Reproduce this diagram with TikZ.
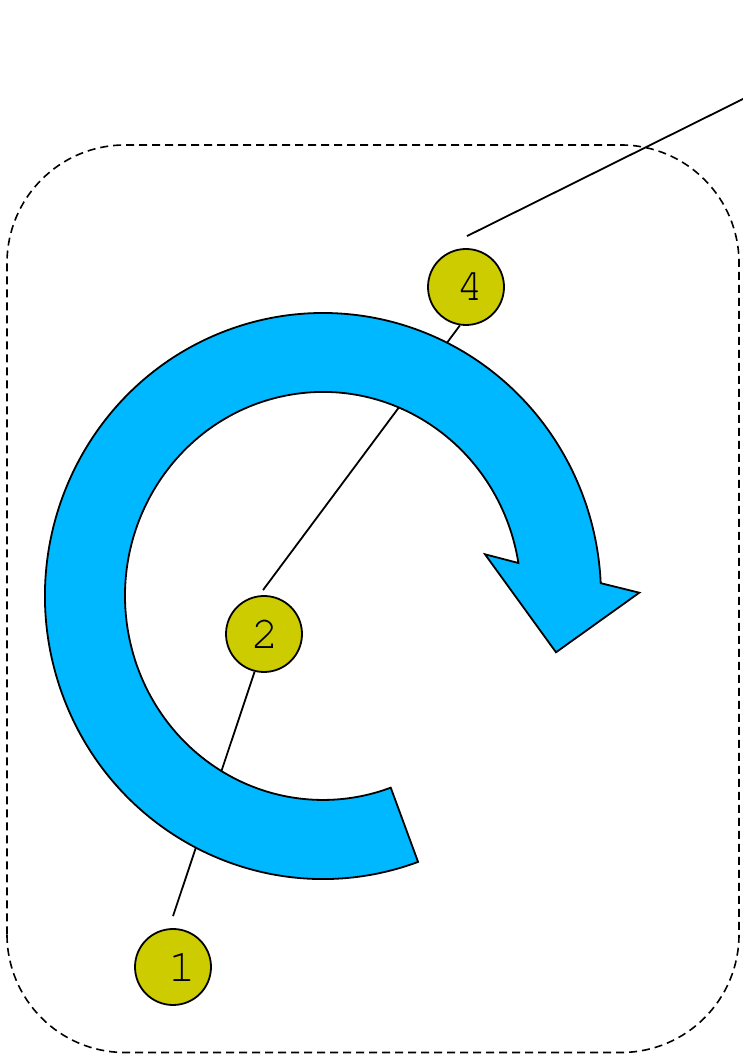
\documentclass[tikz,border=0pt]{standalone}
\usepackage{fontspec}
\newfontfamily\digitfont{TeX Gyre Cursor}
\definecolor{arrowblue}{RGB}{0,184,255}
\definecolor{dotyellow}{RGB}{204,204,0}
\tikzset{
  dot/.style={circle, draw=black, line width=1.8pt, fill=dotyellow,
    minimum size=76pt, inner sep=0pt, font=\digitfont\fontsize{46}{46}\selectfont},
  link/.style={draw=black, line width=1.8pt},
  frame/.style={draw=black, line width=1.6pt, dash pattern=on 8pt off 5pt,
    rounded corners=118pt},
  bluearrow/.style={fill=arrowblue, draw=black, line width=1.8pt, line join=miter}
}
\begin{document}
\begin{tikzpicture}[x=1pt, y=1pt]
  \useasboundingbox (0,0) rectangle (742,1057);

  % dashed rounded frame
  \draw[frame] (7,4.5) rectangle (739,912);

  % numbered markers
  \node[dot] (n4) at (466,770) {\hspace*{8pt}4};
  \node[dot] (n2) at (264,423) {\hspace*{2pt}2};
  \node[dot] (n1) at (173,90)  {\hspace*{18pt}1};
  \coordinate (far) at (745,959);

  % connectors (behind the curved arrow)
  \draw[link] (far) -- ([shift={(1,12)}]n4.north);
  \draw[link] (n4.-99) -- ([shift={(-1,5)}]n2.north);
  \draw[link] (n2.-104) -- ([yshift=12]n1.north);

  % curved arrow around the centre (323,461)
  \path[bluearrow]
    (418.08,195.07)
      arc[start angle=-70, end angle=-357.4, x radius=278pt, y radius=283pt]
    -- (639.3,464.3) -- (556,404.7) -- (485,502.7) -- (518.4,494.0)
      arc[start angle=-350.7, end angle=-70, x radius=198pt, y radius=204pt]
    -- cycle;
\end{tikzpicture}
\end{document}
